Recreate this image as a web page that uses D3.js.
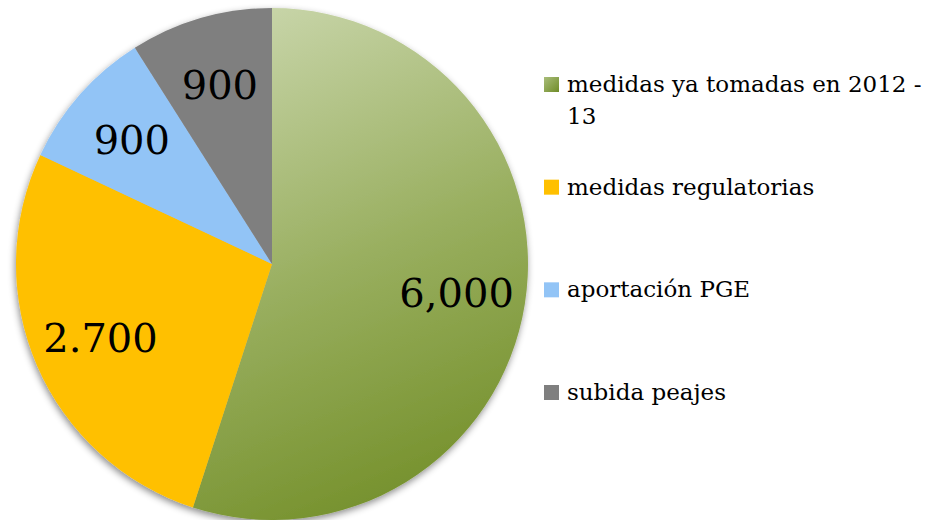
<!DOCTYPE html>
<html>
<head>
<meta charset="utf-8">
<script src="https://cdn.jsdelivr.net/npm/d3@7"></script>
<style>
  body { margin: 0; background: #fff; }
  svg text { font-family: "Palatino Linotype", "Book Antiqua", Palatino, "DejaVu Serif", serif; }
</style>
</head>
<body>
<div id="graf"></div>
<script>
// datos del grafico (las etiquetas son las que muestra)
const categorias = ["medidas ya tomadas en 2012 - 13", "medidas regulatorias", "aportación PGE", "subida peajes"];
const valores = [5500, 2700, 900, 900];
const etiquetas = ["6,000", "2.700", "900", "900"];
const colores = ["url(#verde)", "#ffc000", "#92c4f6", "#7f7f7f"];

const anchoTotal = 930, altoTotal = 520;
const centro = { x: 272, y: 264 };
const radio = 256;

const svg = d3.select("#graf")
  .append("svg")
  .attr("width", anchoTotal)
  .attr("height", altoTotal);

const defs = svg.append("defs");

// degradado del sector verde (coordenadas relativas al centro del pie)
const grad = defs.append("linearGradient")
  .attr("id", "verde")
  .attr("gradientUnits", "userSpaceOnUse")
  .attr("x1", -80).attr("y1", -260)
  .attr("x2", 140).attr("y2", 250);
grad.append("stop").attr("offset", "0%").attr("stop-color", "#cdd9b1");
grad.append("stop").attr("offset", "55%").attr("stop-color", "#98ae5e");
grad.append("stop").attr("offset", "100%").attr("stop-color", "#738f29");

const gradLeyenda = defs.append("linearGradient")
  .attr("id", "verdeLeyenda")
  .attr("x1", 0).attr("y1", 0).attr("x2", 1).attr("y2", 1);
gradLeyenda.append("stop").attr("offset", "0%").attr("stop-color", "#a9bd7a");
gradLeyenda.append("stop").attr("offset", "100%").attr("stop-color", "#6f8c28");

// sombra suave
const sombra = defs.append("filter")
  .attr("id", "sombra")
  .attr("x", "-10%").attr("y", "-10%")
  .attr("width", "120%").attr("height", "120%");
sombra.append("feDropShadow")
  .attr("dx", -1).attr("dy", 3)
  .attr("stdDeviation", 3.5)
  .attr("flood-color", "#000")
  .attr("flood-opacity", 0.45);

// Pie
const pie = d3.pie().sort(null).value((d) => d.valor);
const datos = valores.map((v, i) => ({ valor: v, etiqueta: etiquetas[i], color: colores[i] }));
const arcos = pie(datos);

const arco = d3.arc().innerRadius(0).outerRadius(radio);
const arcoEtiqueta = d3.arc().innerRadius(radio * 0.73).outerRadius(radio * 0.73);

const g = svg.append("g")
  .attr("transform", `translate(${centro.x}, ${centro.y})`);

g.append("g")
  .attr("filter", "url(#sombra)")
  .selectAll("path")
  .data(arcos)
  .enter()
  .append("path")
  .attr("d", arco)
  .attr("fill", (d) => d.data.color);

// etiquetas
g.selectAll("text.etq")
  .data(arcos)
  .enter()
  .append("text")
  .attr("class", "etq")
  .attr("transform", (d) => `translate(${arcoEtiqueta.centroid(d)})`)
  .attr("text-anchor", "middle")
  .attr("dominant-baseline", "central")
  .attr("style", "font-size:40px; fill:#000")
  .text((d) => d.data.etiqueta);

// Leyenda
const yLeyenda = d3.scalePoint()
  .domain(categorias)
  .range([92, 400]);

const leyenda = svg.append("g");
const filas = leyenda.selectAll("g")
  .data(categorias)
  .enter()
  .append("g")
  .attr("transform", (d) => `translate(544, ${yLeyenda(d)})`);

filas.append("rect")
  .attr("x", 0)
  .attr("y", -15)
  .attr("width", 15)
  .attr("height", 15)
  .attr("fill", (d, i) => i === 0 ? "url(#verdeLeyenda)" : colores[i]);

const textos = filas.append("text")
  .attr("x", 23)
  .attr("y", 0)
  .attr("style", "font-size:23px; fill:#000");

// la primera entrada se parte en dos lineas
textos.each(function (d) {
  const t = d3.select(this);
  if (d.endsWith(" - 13")) {
    t.append("tspan").attr("x", 23).attr("dy", 0).text(d.replace(" 13", ""));
    t.append("tspan").attr("x", 23).attr("dy", 32).text("13");
  } else {
    t.text(d);
  }
});
</script>
</body>
</html>
